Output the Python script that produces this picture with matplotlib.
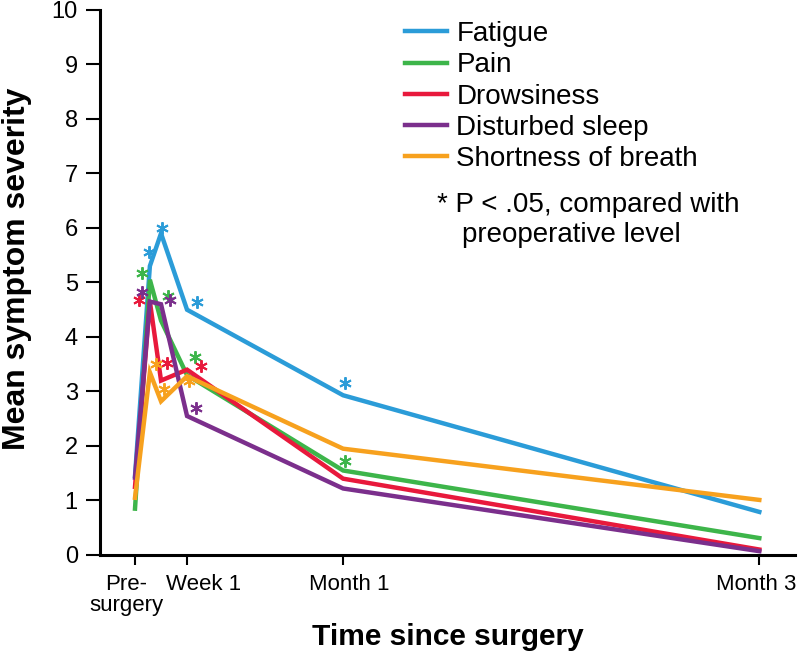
import matplotlib.pyplot as plt
from matplotlib.transforms import ScaledTranslation

plt.rcParams['font.family'] = ['Liberation Sans', 'DejaVu Sans']

# =========
# data (x in days since surgery)

days = [0, 2, 3.5, 7, 28, 84]
tick_days = [0, 7, 28, 84]
tick_labels = ["Pre-\nsurgery", "Week 1", "Month 1", "Month 3"]

fatigue = [1.45, 5.3, 5.9, 4.5, 2.93, 0.79]
pain = [0.85, 5.05, 4.3, 3.3, 1.55, 0.31]
drowsiness = [1.25, 4.65, 3.2, 3.4, 1.4, 0.1]
sleep = [1.42, 4.65, 4.6, 2.55, 1.22, 0.07]
breath = [1.05, 3.35, 2.82, 3.28, 1.95, 1.01]

# significance asterisks (x day, y value)
fatigue_sig_x = [1.85, 3.6, 8.3, 28.2]
fatigue_sig_y = [5.55, 6.0, 4.65, 3.15]
pain_sig_x = [0.9, 4.5, 8.1, 28.2]
pain_sig_y = [5.18, 4.76, 3.63, 1.72]
drows_sig_x = [0.5, 4.35, 8.85]
drows_sig_y = [4.67, 3.52, 3.46]
sleep_sig_x = [0.9, 4.75, 8.2]
sleep_sig_y = [4.83, 4.67, 2.69]
breath_sig_x = [2.8, 3.95, 7.3]
breath_sig_y = [3.5, 3.04, 3.19]

series = [
    ("Fatigue", fatigue, "#2b9cd8", fatigue_sig_x, fatigue_sig_y),
    ("Pain", pain, "#3db54a", pain_sig_x, pain_sig_y),
    ("Drowsiness", drowsiness, "#e8193c", drows_sig_x, drows_sig_y),
    ("Disturbed sleep", sleep, "#7b2f8c", sleep_sig_x, sleep_sig_y),
    ("Shortness of breath", breath, "#f7a11e", breath_sig_x, breath_sig_y),
]

# ====
# plot

fig = plt.figure(figsize=(8, 6.52), dpi=100)
ax = fig.add_axes([0.125, 0.1488, 0.86875, 0.836])

for name, vals, col, sx, sy in series:
    ax.plot(days, vals, color=col, lw=3.2, label=name, solid_joinstyle='miter')
    ax.plot(sx, sy, ls='none', marker=(6, 2, 0), ms=9, mew=1.4, color=col)

ax.set_xlim(-4.71, 88.8)
ax.set_ylim(0, 10)
ax.set_yticks(range(0, 11))
ax.set_xticks(tick_days)
ax.set_xticklabels(tick_labels, fontsize=16, linespacing=1.0)
ax.tick_params(axis='y', labelsize=17, length=10, width=1.5, pad=6)
ax.tick_params(axis='x', length=7, width=1.5, pad=7)

# nudge the x tick labels like in the original
for lab, dx in zip(ax.get_xticklabels(), [-9, 17, 6, -3]):
    lab.set_transform(lab.get_transform() + ScaledTranslation(dx / 100, 0, fig.dpi_scale_trans))

for s in ["top", "right"]:
    ax.spines[s].set_visible(False)
for s in ["left", "bottom"]:
    ax.spines[s].set_linewidth(2.2)

ax.set_ylabel("Mean symptom severity", fontsize=23, fontweight='bold')
ax.yaxis.set_label_coords(-0.098, 0.525)
ax.set_xlabel("Time since surgery", fontsize=21.5, fontweight='bold', labelpad=5)

ax.legend(loc='upper left', bbox_to_anchor=(405 / 800, 1 - 21 / 652),
          bbox_transform=fig.transFigure, frameon=False, fontsize=20,
          handlelength=1.5, handletextpad=0.35, labelspacing=0.19,
          borderpad=0, borderaxespad=0)

fig.text(437 / 800, 1 - 205 / 652, "* P < .05, compared with", fontsize=20, va='center')
fig.text(462 / 800, 1 - 235 / 652, "preoperative level", fontsize=20, va='center')

fig.savefig("out.png", dpi=100)
